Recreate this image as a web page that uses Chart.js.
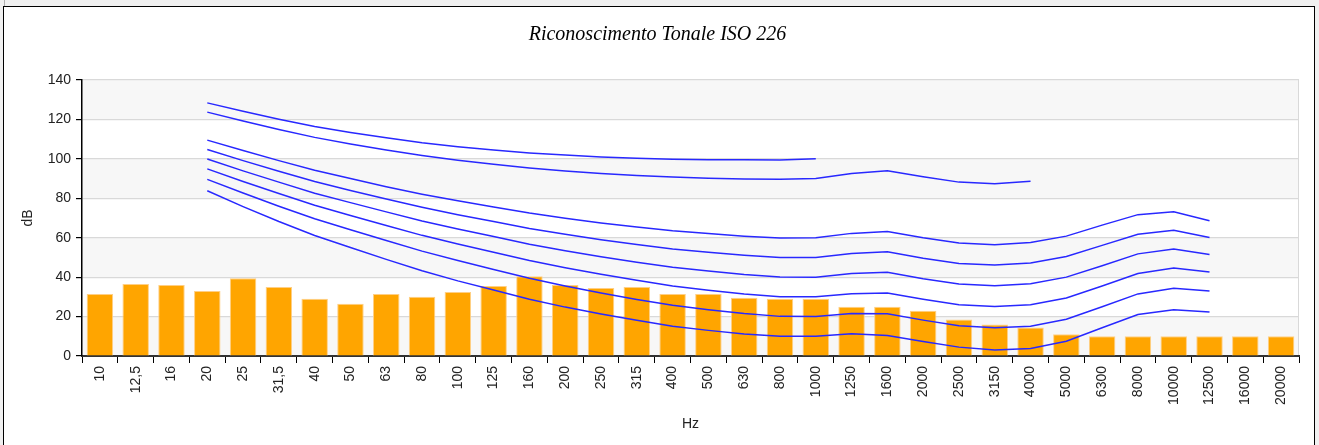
<!DOCTYPE html>
<html>
<head>
<meta charset="utf-8">
<script src="https://cdn.jsdelivr.net/npm/chart.js@4"></script>
<style>
  body { margin: 0; background: #f0f0f0; width: 1319px; height: 445px; overflow: hidden; }
  #nick { position: absolute; left: 4px; top: 0; width: 1px; height: 6px; background: #b0b0b0; }
  #frame { position: absolute; left: 3px; top: 6px; width: 1310px; height: 438px; border: 1px solid #000; background: #fff; }
  #frame canvas { display: block; }
</style>
</head>
<body>
<div id="nick"></div>
<div id="frame"><canvas id="chart" width="1310" height="438"></canvas></div>
<script>
const freqs = ['10', '12,5', '16', '20', '25', '31,5', '40', '50', '63', '80', '100', '125', '160', '200', '250', '315', '400', '500', '630', '800', '1000', '1250', '1600', '2000', '2500', '3150', '4000', '5000', '6300', '8000', '10000', '12500', '16000', '20000'];

// measured spectrum (bars)
const levels = [31.5, 36.5, 36, 33, 39.5, 35, 29, 26.5, 31.5, 30, 32.5, 35.5, 40.5, 36, 34.5, 35, 31.5, 31.5, 29.5, 29, 29, 25, 25, 23, 18.5, 16, 14.5, 11, 10, 10, 10, 10, 10, 10];

// ISO 226 contours, 20 Hz .. 12500 Hz (shorter for 90 / 100 phon)
const phon10 = [83.8, 75.8, 68.2, 61.1, 55.0, 49.0, 43.2, 38.1, 33.5, 28.8, 24.8, 21.3, 18.1, 15.1, 13.0, 11.2, 10.0, 10.0, 11.3, 10.4, 7.3, 4.5, 3.0, 3.8, 7.5, 14.3, 21.0, 23.4, 22.3];
const phon20 = [89.6, 82.7, 76.0, 69.6, 64.0, 58.6, 53.2, 48.4, 43.9, 39.4, 35.5, 32.0, 28.7, 25.7, 23.4, 21.5, 20.1, 20.0, 21.5, 21.4, 18.2, 15.4, 14.3, 15.1, 18.6, 25.0, 31.5, 34.4, 33.0];
const phon30 = [94.9, 88.5, 82.4, 76.5, 71.3, 66.2, 61.2, 56.8, 52.6, 48.4, 44.8, 41.5, 38.4, 35.5, 33.4, 31.5, 30.1, 30.0, 31.6, 32.0, 28.8, 26.0, 25.1, 26.0, 29.4, 35.5, 41.8, 44.6, 42.6];
const phon40 = [99.9, 93.9, 88.2, 82.6, 77.8, 73.1, 68.5, 64.4, 60.6, 56.7, 53.4, 50.4, 47.6, 45.0, 43.1, 41.3, 40.1, 40.0, 41.8, 42.5, 39.2, 36.5, 35.6, 36.7, 40.0, 45.8, 51.8, 54.3, 51.5];
const phon50 = [104.7, 99.1, 93.7, 88.5, 84.0, 79.6, 75.4, 71.6, 68.2, 64.7, 61.7, 59.0, 56.6, 54.3, 52.6, 51.1, 50.0, 50.0, 52.0, 52.9, 49.6, 46.9, 46.1, 47.2, 50.5, 56.1, 61.8, 63.8, 60.1];
const phon60 = [109.5, 104.2, 99.1, 94.2, 90.0, 85.9, 82.1, 78.7, 75.6, 72.5, 69.9, 67.5, 65.4, 63.5, 62.1, 60.8, 59.9, 60.0, 62.2, 63.2, 60.0, 57.3, 56.4, 57.6, 60.8, 66.4, 71.7, 73.2, 68.6];
const phon90 = [123.7, 119.2, 114.9, 110.9, 107.5, 104.5, 101.7, 99.3, 97.3, 95.4, 93.9, 92.6, 91.6, 90.8, 90.2, 89.8, 89.6, 90.0, 92.6, 94.0, 90.9, 88.2, 87.4, 88.7];
const phon100 = [128.4, 124.2, 120.1, 116.4, 113.4, 110.7, 108.2, 106.2, 104.5, 103.0, 101.9, 101.0, 100.3, 99.8, 99.6, 99.5, 99.4, 100.0];

const yTicks = [0, 20, 40, 60, 80, 100, 120, 140];

// contours start at 20 Hz (index 3)
function fromTwenty(vals) {
  const out = [null, null, null].concat(vals);
  while (out.length < freqs.length) out.push(null);
  return out;
}

function contour(vals) {
  return {
    type: 'line',
    data: fromTwenty(vals),
    borderColor: 'rgb(40,40,255)',
    borderWidth: 1.5,
    pointRadius: 0,
    tension: 0,
    spanGaps: false,
    order: 0
  };
}

const bands = {
  id: 'bands',
  beforeDraw(chart) {
    const { ctx, chartArea, scales } = chart;
    const y = scales.y;
    ctx.save();
    ctx.fillStyle = '#f7f7f7';
    for (let v = 0; v < 140; v += 40) {
      const top = y.getPixelForValue(v + 20);
      const bot = y.getPixelForValue(v);
      ctx.fillRect(chartArea.left, top, chartArea.right - chartArea.left, bot - top);
    }
    ctx.strokeStyle = '#d9d9d9';
    ctx.lineWidth = 1;
    ctx.beginPath();
    ctx.moveTo(chartArea.right - 0.5, chartArea.top);
    ctx.lineTo(chartArea.right - 0.5, chartArea.bottom);
    ctx.stroke();
    ctx.restore();
  }
};

new Chart(document.getElementById('chart'), {
  data: {
    labels: freqs,
    datasets: [
      contour(phon100),
      contour(phon90),
      contour(phon60),
      contour(phon50),
      contour(phon40),
      contour(phon30),
      contour(phon20),
      contour(phon10),
      {
        type: 'bar',
        data: levels,
        backgroundColor: '#ffa500',
        borderColor: '#ffcf85',
        borderWidth: 1,
        barPercentage: 0.74,
        categoryPercentage: 1,
        order: 10
      }
    ]
  },
  options: {
    responsive: false,
    animation: false,
    layout: { padding: { left: 12, right: 15, top: 0, bottom: 0 } },
    plugins: {
      legend: { display: false },
      tooltip: { enabled: false },
      title: {
        display: true,
        text: 'Riconoscimento Tonale ISO 226',
        color: '#000',
        font: { family: 'Liberation Serif', size: 20, style: 'italic', weight: 'normal' },
        padding: { top: 16, bottom: 33 }
      }
    },
    scales: {
      x: {
        afterFit: s => { s.height = 89; },
        grid: { offset: true, drawOnChartArea: false, drawTicks: true, tickLength: 7, tickColor: '#000' },
        border: { color: '#333', width: 2 },
        ticks: {
          autoSkip: false, maxRotation: 90, minRotation: 90, padding: 3,
          color: '#222', font: { family: 'Liberation Sans', size: 14 }
        },
        title: {
          display: true, text: 'Hz', color: '#222',
          font: { family: 'Liberation Sans', size: 14 },
          padding: { top: 4, bottom: 12 }
        }
      },
      y: {
        min: 0, max: 140,
        afterFit: s => { s.width = 66; },
        afterBuildTicks: s => { s.ticks = yTicks.map(v => ({ value: v })); },
        grid: { color: '#d9d9d9', tickColor: '#000', tickLength: 6, lineWidth: 1.2 },
        border: { color: '#000', width: 1.5 },
        ticks: { color: '#222', padding: 5, font: { family: 'Liberation Sans', size: 14 } },
        title: {
          display: true, text: 'dB', color: '#222',
          font: { family: 'Liberation Sans', size: 14 }
        }
      }
    }
  },
  plugins: [bands]
});
</script>
</body>
</html>
